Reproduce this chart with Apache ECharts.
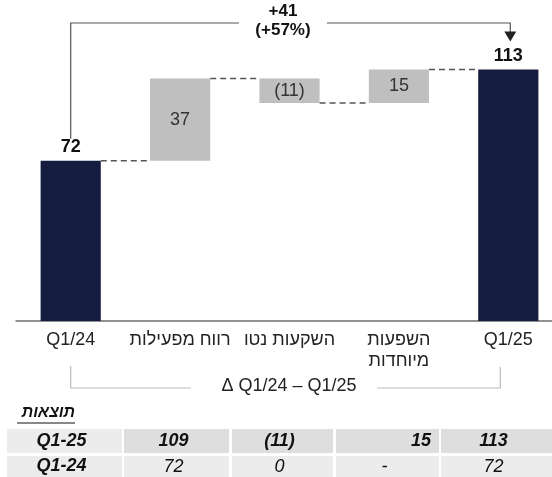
<!DOCTYPE html>
<html>
<head>
<meta charset="utf-8">
<script src="https://cdn.jsdelivr.net/npm/echarts@6/dist/echarts.min.js"></script>
<style>
  html, body { margin: 0; padding: 0; background: #fff; }
  #main { width: 552px; height: 477px; }
</style>
</head>
<body>
<div id="main"></div>
<script>
// waterfall data
const categories = ['Q1/24', 'רווח מפעילות', 'השקעות נטו', 'השפעות\nמיוחדות', 'Q1/25'];
const steps = [72, 37, -11, 15, 113];
const isTotal = [true, false, false, false, true];

// top / bottom annotations
const changeLabel = '+41\n(+57%)';
const rangeLabel = 'Δ Q1/24 – Q1/25';

// results table
const tableTitle = 'תוצאות';
const rowLabels = ['Q1-25', 'Q1-24'];
const rowQ125 = ['109', '(11)', '15', '113'];
const rowQ124 = ['72', '0', '-', '72'];

const NAVY = '#141d3f';
const GREY = '#bfbfbf';
const FONT = '"Liberation Sans", Arial, sans-serif';

// base (invisible) + visible part of each bar, and running level after each bar
const base = [], shown = [], levels = [];
let run = 0;
steps.forEach((v, i) => {
  if (isTotal[i]) {
    base.push(0); shown.push(v); run = v;
  } else {
    const next = run + v;
    base.push(Math.min(run, next)); shown.push(Math.abs(v)); run = next;
  }
  levels.push(run);
});

const BAR_RATIO = 0.55;
const chart = echarts.init(document.getElementById('main'));

chart.setOption({
  animation: false,
  textStyle: { fontFamily: FONT },
  grid: { left: 16, top: 54, bottom: 156, width: 547, containLabel: false, outerBoundsMode: 'none' },
  xAxis: {
    type: 'category',
    data: categories,
    axisLine: { lineStyle: { color: '#6e6e6e', width: 1.5 } },
    axisTick: { show: false },
    axisLabel: { color: '#222', fontSize: 18, margin: 9, lineHeight: 21, interval: 0 }
  },
  yAxis: { type: 'value', min: 0, max: 120, show: false },
  series: [
    {
      type: 'bar', stack: 'w', barWidth: (BAR_RATIO * 100) + '%',
      itemStyle: { color: 'transparent' },
      data: base,
      silent: true
    },
    {
      type: 'bar', stack: 'w',
      data: shown.map((v, i) => ({
        value: v,
        itemStyle: { color: isTotal[i] ? NAVY : GREY },
        label: isTotal[i]
          ? { show: true, position: 'top', distance: 5, fontWeight: 'bold', fontSize: 18, color: '#111',
              formatter: String(steps[i]) }
          : { show: true, position: 'inside', fontSize: 18, color: '#333',
              formatter: steps[i] < 0 ? '(' + (-steps[i]) + ')' : String(steps[i]) }
      }))
    },
    {
      // dashed connectors between bars
      type: 'custom',
      silent: true,
      data: levels.slice(0, -1).map((v, i) => [i, v]),
      renderItem: function (params, api) {
        const p = api.coord([api.value(0), api.value(1)]);
        const band = api.size([1, 0])[0];
        const half = band * BAR_RATIO / 2;
        return {
          type: 'line',
          shape: { x1: p[0] + half, y1: p[1], x2: p[0] + band - half, y2: p[1] },
          style: { stroke: '#555', lineWidth: 1.5, lineDash: [6, 4] }
        };
      },
      z: 3
    }
  ]
});

// annotations placed from the chart's own scales
const px = (i, v) => chart.convertToPixel({ gridIndex: 0 }, [i, v]);
const first = px(0, steps[0]);
const last = px(4, steps[4]);
const topY = 23;
const textX = 283;
const gl = [];

gl.push({ type: 'polyline', shape: { points: [[first[0], first[1] - 22], [first[0], topY], [textX - 44, topY]] },
  style: { stroke: '#555', lineWidth: 1.2, fill: null } });
gl.push({ type: 'polyline', shape: { points: [[textX + 44, topY], [last[0] + 2, topY], [last[0] + 2, last[1] - 37]] },
  style: { stroke: '#555', lineWidth: 1.2, fill: null } });
gl.push({ type: 'polygon', shape: { points: [[last[0] - 4, last[1] - 38], [last[0] + 8, last[1] - 38], [last[0] + 2, last[1] - 28]] },
  style: { fill: '#222' } });
gl.push({ type: 'text', x: textX, y: 21,
  style: { text: changeLabel, font: 'bold 17px ' + FONT, fill: '#111', align: 'center', verticalAlign: 'middle', lineHeight: 19 } });

// bottom range bracket
const bl = px(0, 0)[0];
const br = px(4, 0)[0] - 8;
gl.push({ type: 'polyline', shape: { points: [[bl, 366], [bl, 388], [191, 388]] },
  style: { stroke: '#bbb', lineWidth: 1.2, fill: null } });
gl.push({ type: 'polyline', shape: { points: [[377, 388], [br, 388], [br, 367]] },
  style: { stroke: '#bbb', lineWidth: 1.2, fill: null } });
gl.push({ type: 'text', x: 289, y: 386,
  style: { text: rangeLabel, font: '18px ' + FONT, fill: '#222', align: 'center', verticalAlign: 'middle' } });

// results table
gl.push({ type: 'text', x: 75, y: 413,
  style: { text: tableTitle, font: 'italic bold 16px ' + FONT, fill: '#111', align: 'right', verticalAlign: 'middle' } });
gl.push({ type: 'line', shape: { x1: 17, y1: 423, x2: 75, y2: 423 }, style: { stroke: '#111', lineWidth: 1 } });

const cols = [[7, 122], [124, 229], [232, 333], [336, 439], [441, 552]];
const rows = [[429, 453], [456, 477]];
const rowData = [rowQ125, rowQ124];
rows.forEach((r, ri) => {
  cols.forEach((c, ci) => {
    const dark = ri === 0 && ci > 0;
    gl.push({ type: 'rect', shape: { x: c[0], y: r[0], width: c[1] - c[0], height: r[1] - r[0] },
      style: { fill: dark ? '#dedede' : '#ececec' } });
    const txt = ci === 0 ? rowLabels[ri] : rowData[ri][ci - 1];
    const bold = ri === 0 || ci === 0;
    const rightAlign = ri === 0 && ci === 3;
    gl.push({ type: 'text',
      x: rightAlign ? c[1] - 8 : (c[0] + c[1]) / 2 - 3,
      y: (r[0] + r[1]) / 2,
      style: { text: txt, font: 'italic ' + (bold ? 'bold ' : '') + '18px ' + FONT, fill: '#111',
        align: rightAlign ? 'right' : 'center', verticalAlign: 'middle' } });
  });
});

chart.setOption({ graphic: gl });
</script>
</body>
</html>
